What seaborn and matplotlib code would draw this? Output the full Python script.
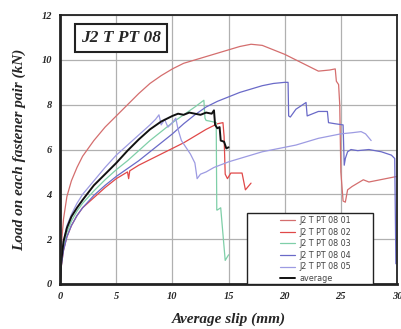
import pandas as pd
import matplotlib
matplotlib.use("Agg")
import matplotlib.pyplot as plt
from matplotlib.patches import Rectangle
import seaborn as sns

sns.set_style("white")
plt.rcParams['font.family'] = ['Liberation Serif', 'DejaVu Serif']

# Load-slip curves
X01 = [0, 0.05, 0.15, 0.3, 0.6, 1.0, 1.5, 2, 3, 4, 5, 6, 7, 8, 9, 10, 11, 12, 13, 14, 15, 16, 17, 18, 19,
       20, 21, 22, 23, 24, 24.5, 24.6, 24.8, 24.9, 25.0, 25.2, 25.4, 25.6, 26, 26.5, 27, 27.5, 28, 29, 30]
Y01 = [0, 1.0, 2.0, 2.9, 3.9, 4.6, 5.2, 5.7, 6.4, 7.0, 7.5, 8.0, 8.5, 8.95, 9.3, 9.6, 9.85, 10.0, 10.15, 10.3,
       10.45, 10.6, 10.7, 10.65, 10.45, 10.25, 10.0, 9.75, 9.5, 9.55, 9.6, 9.05, 8.9, 8.0, 5.0, 3.7, 3.65, 4.2,
       4.35, 4.5, 4.65, 4.55, 4.6, 4.7, 4.8]

X02 = [0, 0.1, 0.3, 0.6, 1, 1.5, 2, 3, 4, 5, 6, 6.1, 6.2, 7, 8, 9, 10, 11, 12, 13, 14, 14.5, 14.6, 14.7,
       14.9, 15.2, 16.2, 16.5, 17.0]
Y02 = [0, 0.8, 1.5, 2.1, 2.6, 3.05, 3.4, 3.85, 4.3, 4.7, 5.0, 4.7, 5.05, 5.3, 5.55, 5.8, 6.05, 6.3, 6.6,
       6.9, 7.15, 7.2, 6.6, 4.9, 4.7, 4.95, 4.95, 4.2, 4.5]

X03 = [0, 0.1, 0.3, 0.6, 1, 1.5, 2, 3, 4, 5, 6, 7, 8, 9, 10, 11, 12, 12.8, 12.9, 13.0, 13.5, 13.9, 13.95,
       14.0, 14.3, 14.35, 14.7, 15.0]
Y03 = [0, 0.9, 1.7, 2.3, 2.8, 3.25, 3.6, 4.15, 4.65, 5.1, 5.5, 5.95, 6.4, 6.8, 7.2, 7.55, 7.9, 8.2, 7.4, 7.3,
       7.25, 7.2, 3.3, 3.3, 3.4, 3.1, 1.05, 1.3]

X04 = [0, 0.1, 0.3, 0.6, 1, 1.5, 2, 3, 4, 5, 6, 7, 8, 9, 10, 11, 12, 13, 14, 15, 16, 17, 18, 19, 20, 20.3,
       20.35, 20.5, 21, 21.9, 22.0, 22.5, 23.0, 23.8, 23.9, 24.5, 25.2, 25.3, 25.4, 25.6, 25.9, 26.5, 27.5,
       28.6, 29.5, 29.8, 29.9]
Y04 = [0, 0.8, 1.5, 2.1, 2.6, 3.05, 3.4, 3.95, 4.4, 4.8, 5.15, 5.5, 5.9, 6.3, 6.7, 7.15, 7.55, 7.9, 8.15, 8.35,
       8.55, 8.7, 8.85, 8.95, 9.0, 9.0, 7.5, 7.45, 7.8, 8.1, 7.5, 7.6, 7.7, 7.7, 7.2, 7.15, 7.1, 5.3, 5.6,
       5.9, 6.0, 5.95, 6.0, 5.9, 5.75, 5.6, 0.9]

X05 = [0, 0.1, 0.3, 0.6, 1, 1.5, 2, 3, 4, 5, 6, 7, 8, 8.5, 8.8, 9.0, 9.3, 9.6, 10.0, 10.3, 10.5, 10.8, 11.2,
       11.6, 12.0, 12.2, 12.5, 13, 13.7, 15, 16, 17, 18, 19, 20, 21, 22, 23, 24, 25, 26, 26.8, 27.2, 27.7]
Y05 = [0, 1.0, 1.9, 2.6, 3.1, 3.6, 4.0, 4.6, 5.2, 5.75, 6.2, 6.65, 7.1, 7.35, 7.55, 7.1, 7.35, 7.0, 7.2, 7.4,
       6.9, 6.4, 6.1, 5.8, 5.4, 4.7, 4.9, 5.0, 5.2, 5.45, 5.6, 5.75, 5.9, 6.0, 6.1, 6.2, 6.35, 6.5, 6.6,
       6.7, 6.75, 6.8, 6.7, 6.4]

XAVG = [0, 0.1, 0.3, 0.6, 1, 1.5, 2, 3, 4, 5, 6, 7, 8, 9, 10, 10.5, 11, 11.5, 12, 12.5, 13, 13.5, 13.7,
        13.8, 14.0, 14.2, 14.3, 14.6, 14.8, 15.0]
YAVG = [0, 1.0, 1.9, 2.5, 3.0, 3.4, 3.75, 4.4, 4.9, 5.4, 5.95, 6.45, 6.9, 7.25, 7.5, 7.6, 7.55, 7.65, 7.6,
        7.55, 7.65, 7.6, 7.75, 7.1, 6.95, 7.0, 6.4, 6.35, 6.05, 6.1]

LABELS = ["J2 T PT 08 01", "J2 T PT 08 02", "J2 T PT 08 03", "J2 T PT 08 04", "J2 T PT 08 05", "average"]
COLORS = ["#d46e6e", "#e04848", "#7fcfa8", "#6a6ac8", "#9d9be2", "#111111"]
SERIES = [(X01, Y01), (X02, Y02), (X03, Y03), (X04, Y04), (X05, Y05), (XAVG, YAVG)]

fig = plt.figure(figsize=(4.01, 3.29), dpi=100)
ax = fig.add_axes([0.15, 0.137, 0.84, 0.817])

for (xs, ys), lab, col in zip(SERIES, LABELS, COLORS):
    df = pd.DataFrame({"slip": xs, "load": ys})
    sns.lineplot(data=df, x="slip", y="load", sort=False, estimator=None, ax=ax,
                 color=col, lw=1.4 if lab == "average" else 0.9, label=lab)

ax.set_xlim(0, 30)
ax.set_ylim(0, 12)
ax.set_xticks(range(0, 31, 5))
ax.set_yticks(range(0, 13, 2))
ax.grid(True, color="#b0b0b0", lw=0.9)
ax.set_axisbelow(True)
for s in ax.spines.values():
    s.set_color("#222222")
    s.set_linewidth(1.3)
ax.spines["left"].set_linewidth(2)
ax.spines["bottom"].set_linewidth(2)
ax.tick_params(length=0, labelsize=7.5, pad=6)
for t in ax.get_xticklabels() + ax.get_yticklabels():
    t.set_fontweight("bold")
    t.set_fontstyle("italic")
ax.set_xlabel("Average slip (mm)", fontsize=11, fontweight="bold", fontstyle="italic", labelpad=8)
ax.set_ylabel("Load on each fastener pair (kN)", fontsize=11, fontweight="bold", fontstyle="italic", labelpad=11)

ax.text(0.18, 0.915, "J2 T PT 08", transform=ax.transAxes, ha="center", va="center",
        fontsize=12.5, fontweight="bold", fontstyle="italic",
        bbox=dict(boxstyle="square,pad=0.35", fc="white", ec="#222222", lw=1.5))

# legend box is wider than its entries in the reference, so draw frame separately
ax.add_patch(Rectangle((0.555, 0.0), 0.374, 0.264, transform=ax.transAxes, fc="white",
                       ec="#222222", lw=1.0, zorder=4))
leg = ax.legend(loc="center left", bbox_to_anchor=(0.64, 0.128), frameon=False,
                handlelength=1.9, handletextpad=0.5, labelspacing=0.32, borderpad=0,
                prop={"family": "DejaVu Sans", "size": 5.8})
leg.set_zorder(5)
for t in leg.get_texts():
    t.set_color("#444444")

fig.savefig("out.png", dpi=100)
